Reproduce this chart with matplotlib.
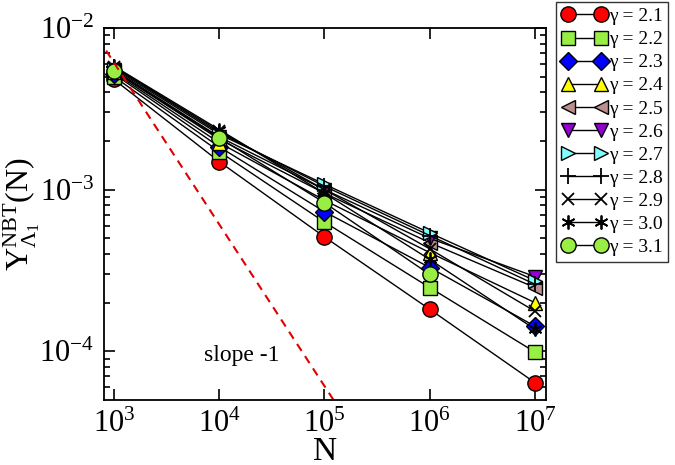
import matplotlib
matplotlib.use('Agg')
import matplotlib.pyplot as plt
import numpy as np

plt.rcParams['font.family'] = ['Liberation Serif', 'DejaVu Serif']
plt.rcParams['mathtext.fontset'] = 'custom'
plt.rcParams['mathtext.rm'] = 'Liberation Serif'
plt.rcParams['mathtext.it'] = 'Liberation Serif'

N = [1e3, 1e4, 1e5, 1e6, 1e7]
gammas = ['2.1', '2.2', '2.3', '2.4', '2.5', '2.6', '2.7', '2.8', '2.9', '3.0', '3.1']

y21 = [4.8e-3, 1.49e-3, 5.1e-4, 1.82e-4, 6.4e-5]
y22 = [5.0e-3, 1.72e-3, 6.3e-4, 2.48e-4, 9.9e-5]
y23 = [5.2e-3, 1.84e-3, 7.3e-4, 3.3e-4, 1.43e-4]
y24 = [5.3e-3, 1.95e-3, 8.6e-4, 4.08e-4, 2.0e-4]
y25 = [5.4e-3, 2.05e-3, 9.5e-4, 4.7e-4, 2.48e-4]
y26 = [5.5e-3, 2.12e-3, 1.0e-3, 5.0e-4, 2.9e-4]
y27 = [5.6e-3, 2.2e-3, 1.08e-3, 5.4e-4, 2.74e-4]
y28 = [5.7e-3, 2.25e-3, 1.05e-3, 5.2e-4, 2.6e-4]
y29 = [5.75e-3, 2.3e-3, 1.0e-3, 4.3e-4, 1.77e-4]
y30 = [5.8e-3, 2.35e-3, 9.5e-4, 3.7e-4, 1.37e-4]
y31 = [5.4e-3, 2.09e-3, 8.3e-4, 2.99e-4]
series = [y21, y22, y23, y24, y25, y26, y27, y28, y29, y30, y31]

xticks = [1e3, 1e4, 1e5, 1e6, 1e7]
yticks = [1e-4, 1e-3, 1e-2]

markers = ['o', 's', 'D', '^', '<', 'v', '>', '+', 'x', (6, 2, 0), 'o']
colors = ['#ff0000', '#99ee44', '#0000ff', '#ffff00', '#bc8f8f', '#9400d3',
          '#80ffff', 'k', 'k', 'k', '#99ee44']
sizes = [11, 9.5, 9, 10, 10, 10, 10, 11, 8, 10, 11]

slope_C = 6.1  # y = C / N

fig = plt.figure(figsize=(6.75, 4.65), dpi=100)
ax = fig.add_axes([0.154, 0.140, 0.655, 0.800])

for g, y, m, c, s in zip(gammas, series, markers, colors, sizes):
    x = N[:len(y)]
    if c == 'k':
        ax.plot(x, y, color='k', lw=1, marker=m, ms=s, mew=1.3,
                label='γ = ' + g)
    else:
        ax.plot(x, y, color='k', lw=1, marker=m, ms=s, mfc=c, mec='k',
                mew=1.0, label='γ = ' + g)

xs = np.array([5e2, 2e5])
ax.plot(xs, slope_C / xs, color='#e00000', ls=(0, (4, 3)), lw=1.5)
ax.text(1.65e4, 9.4e-5, 'slope -1', fontsize=17, ha='center', va='center')

ax.set_xscale('log')
ax.set_yscale('log')
ax.set_xlim(10 ** 2.905, 10 ** 7.105)
ax.set_ylim(10 ** -4.30, 1e-2)
ax.set_xticks(xticks)
ax.set_yticks(yticks)
ax.tick_params(which='both', direction='in', top=True, right=True, labelsize=22, width=1.2)
ax.tick_params(which='major', length=8, pad=7)
ax.tick_params(which='minor', length=4)
for sp in ax.spines.values():
    sp.set_linewidth(1.3)

ax.set_xlabel('N', fontsize=24, labelpad=-2)
ax.set_ylabel(r'Y$^{\rm NBT}_{\Lambda_1}$(N)', fontsize=23, labelpad=-2)

leg = ax.legend(loc='upper left', bbox_to_anchor=(1.023, 1.07), numpoints=2,
                fontsize=14, frameon=True, fancybox=False, edgecolor='k',
                handlelength=2.3, handletextpad=0.1, labelspacing=0.28,
                borderpad=0.3, borderaxespad=0)
leg.get_frame().set_linewidth(1.0)

fig.savefig('out.png', dpi=100)
